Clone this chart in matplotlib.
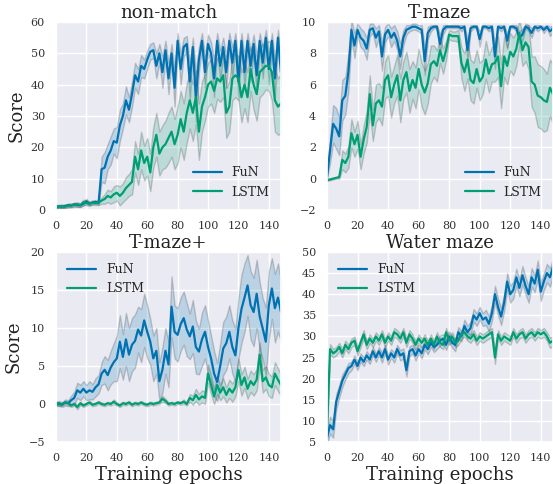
import numpy as np
import matplotlib
matplotlib.use("Agg")
import matplotlib.pyplot as plt
import seaborn as sns

# epochs (every 2nd epoch)
epochs = np.arange(0, 150, 2)

# non-match
nm_fun = [1.0, 1.2, 1.0, 1.3, 1.5, 1.4, 1.8, 1.6, 1.5, 2.0, 2.8, 2.0, 2.3, 2.6, 2.2,
          13.0, 13.5, 17.0, 19.0, 22.0, 21.5, 27.0, 30.0, 35.0, 32.0, 37.0, 43.0, 41.0, 46.0, 45.0,
          48.0, 50.5, 51.0, 46.0, 50.0, 44.0, 51.0, 42.0, 50.0, 39.0, 54.0, 45.0, 52.0, 53.0, 41.0,
          52.0, 36.0, 48.0, 54.0, 44.0, 53.0, 50.0, 42.0, 54.0, 46.0, 52.0, 44.0, 54.0, 47.0, 54.0,
          41.0, 54.0, 44.0, 54.0, 46.0, 53.0, 43.0, 54.0, 47.0, 55.0, 45.0, 54.0, 42.0, 55.0, 44.0]
nm_fun_err = [0.5, 0.5, 0.5, 0.5, 0.5, 0.5, 0.5, 0.6, 0.5, 0.6, 0.8, 0.6, 0.5, 0.6, 0.5,
              4.0, 5.0, 4.0, 4.5, 4.0, 5.0, 5.0, 4.0, 4.5, 4.0, 4.0, 4.0, 4.0, 3.5, 3.0,
              3.0, 2.5, 2.5, 4.0, 3.0, 5.0, 3.0, 5.0, 3.0, 6.0, 2.5, 5.0, 3.0, 2.5, 6.0,
              3.0, 8.0, 4.0, 2.5, 5.0, 3.0, 3.5, 6.0, 2.5, 5.0, 3.0, 5.0, 2.5, 5.0, 2.5,
              6.0, 2.5, 5.0, 2.5, 5.0, 3.0, 6.0, 2.5, 5.0, 2.5, 5.0, 2.5, 6.0, 2.5, 5.0]
nm_lstm = [0.8, 1.0, 1.2, 1.0, 1.4, 1.5, 1.6, 1.8, 1.5, 2.5, 2.2, 2.0, 2.4, 2.2, 2.3,
           3.0, 3.5, 4.5, 4.0, 5.0, 5.5, 4.5, 5.5, 7.0, 8.0, 9.0, 17.0, 13.0, 19.0, 15.0,
           17.0, 12.0, 20.0, 24.0, 18.0, 20.0, 21.0, 23.0, 25.0, 21.0, 24.0, 29.0, 25.0, 31.0, 35.0,
           31.0, 36.0, 25.0, 33.0, 36.0, 40.0, 41.0, 38.0, 42.0, 41.0, 43.0, 31.0, 33.0, 42.0, 43.0,
           42.0, 36.0, 40.0, 36.0, 45.0, 40.0, 37.0, 44.0, 45.0, 46.0, 46.0, 44.0, 35.0, 33.0, 34.0]
nm_lstm_err = [0.5, 0.5, 0.6, 0.5, 0.6, 0.6, 0.6, 0.7, 0.6, 0.8, 0.7, 0.6, 0.7, 0.6, 0.7,
               1.0, 1.5, 2.0, 2.0, 2.5, 2.5, 3.0, 3.0, 3.5, 3.5, 4.0, 5.0, 5.0, 6.0, 5.5,
               6.0, 6.0, 6.5, 7.0, 7.0, 7.0, 7.5, 8.0, 8.0, 8.0, 9.0, 9.0, 9.0, 9.5, 9.0,
               9.0, 8.5, 9.0, 8.0, 7.5, 7.0, 7.0, 7.0, 6.5, 6.5, 7.0, 8.0, 8.0, 7.0, 7.0,
               7.0, 8.0, 7.5, 8.0, 7.0, 8.0, 8.5, 8.0, 8.0, 7.5, 8.0, 9.0, 10.0, 9.0, 9.5]

# T-maze
tm_fun = [0.1, 1.8, 3.5, 3.2, 2.7, 5.0, 5.3, 6.8, 9.5, 8.5, 9.5, 9.0, 8.8, 8.3, 9.5,
          9.6, 9.0, 9.4, 7.8, 9.2, 9.5, 9.0, 9.3, 8.8, 7.8, 9.0, 9.5, 9.6, 9.7, 9.7,
          9.6, 9.5, 7.5, 9.3, 9.6, 9.7, 9.7, 8.6, 9.5, 9.7, 9.7, 9.7, 9.7, 9.7, 9.6,
          9.7, 8.2, 9.6, 9.7, 9.7, 8.9, 9.7, 9.7, 9.6, 9.7, 7.8, 9.7, 9.6, 9.7, 8.8,
          9.7, 9.7, 9.6, 9.0, 9.2, 9.7, 9.6, 9.3, 9.7, 9.6, 9.7, 9.5, 9.7, 9.4, 9.6]
tm_fun_err = [0.1, 0.8, 1.2, 1.3, 1.2, 1.3, 1.2, 1.2, 0.6, 0.8, 0.4, 0.6, 0.6, 0.7, 0.4,
              0.3, 0.6, 0.4, 0.9, 0.5, 0.4, 0.6, 0.5, 0.6, 0.8, 0.5, 0.3, 0.2, 0.2, 0.2,
              0.2, 0.3, 0.9, 0.4, 0.2, 0.1, 0.1, 0.6, 0.3, 0.1, 0.1, 0.1, 0.1, 0.1, 0.2,
              0.1, 0.7, 0.2, 0.1, 0.1, 0.5, 0.1, 0.1, 0.2, 0.1, 0.8, 0.1, 0.2, 0.1, 0.5,
              0.1, 0.1, 0.2, 0.4, 0.4, 0.1, 0.2, 0.3, 0.1, 0.2, 0.1, 0.2, 0.1, 0.3, 0.2]
tm_lstm = [-0.1, -0.05, 0.0, 0.05, 0.1, 1.2, 1.0, 1.4, 2.9, 2.2, 2.8, 1.4, 2.5, 3.3, 5.4,
           3.4, 4.8, 5.0, 4.6, 6.3, 6.6, 5.2, 6.0, 6.6, 5.0, 6.3, 6.8, 5.6, 6.3, 5.8,
           7.0, 6.0, 5.5, 6.1, 7.3, 7.5, 7.2, 8.2, 7.5, 8.2, 9.2, 9.1, 9.1, 9.1, 7.4,
           6.8, 7.6, 6.3, 6.1, 7.0, 6.2, 6.5, 7.6, 6.7, 7.3, 7.4, 7.8, 5.9, 7.8, 7.2,
           8.1, 7.8, 8.3, 9.3, 8.2, 8.7, 8.4, 6.2, 6.0, 5.3, 5.2, 5.0, 4.9, 5.8, 5.4]
tm_lstm_err = [0.05, 0.05, 0.05, 0.05, 0.1, 0.6, 0.6, 0.7, 0.9, 0.8, 0.9, 0.8, 0.9, 1.0, 1.2,
               1.0, 1.2, 1.1, 1.2, 1.2, 1.3, 1.3, 1.2, 1.3, 1.4, 1.2, 1.3, 1.4, 1.2, 1.3,
               1.3, 1.4, 1.4, 1.3, 1.2, 1.0, 1.0, 0.8, 0.8, 0.6, 0.3, 0.3, 0.3, 0.4, 1.0,
               1.2, 1.2, 1.3, 1.3, 1.2, 1.2, 1.1, 1.2, 1.2, 1.1, 1.2, 1.3, 1.4, 1.3, 1.2,
               1.2, 1.2, 1.1, 0.8, 1.0, 1.2, 1.4, 1.6, 1.8, 2.0, 2.0, 2.0, 1.8, 1.8, 1.9]

# T-maze+
tp_fun = [0.0, 0.1, -0.1, 0.2, 0.1, 0.5, 0.8, 1.8, 1.5, 2.0, 1.5, 1.8, 1.6, 2.2, 2.6,
          4.0, 4.5, 3.8, 4.8, 5.5, 6.0, 8.2, 6.2, 8.5, 6.5, 7.8, 8.3, 9.8, 9.0, 11.0,
          9.5, 8.2, 6.0, 7.0, 3.0, 4.5, 7.0, 5.2, 12.8, 9.5, 9.1, 10.5, 11.3, 9.8, 8.9,
          10.2, 7.5, 6.9, 8.5, 9.5, 7.5, 6.0, 4.0, 2.9, 5.0, 7.3, 8.0, 9.5, 7.5, 6.4,
          10.0, 12.5, 14.0, 15.6, 13.0, 12.1, 14.5, 11.5, 9.9, 8.2, 13.0, 15.2, 12.6, 14.0, 12.1]
tp_fun_err = [0.3, 0.3, 0.3, 0.4, 0.4, 0.6, 0.8, 1.0, 1.0, 1.0, 1.0, 1.2, 1.0, 1.2, 1.2,
              1.5, 1.8, 2.0, 2.2, 2.5, 3.0, 3.5, 3.0, 3.5, 3.5, 3.5, 3.5, 3.0, 3.5, 3.5,
              3.5, 3.0, 3.0, 3.0, 2.5, 3.0, 3.0, 3.0, 4.0, 3.5, 3.5, 3.5, 3.5, 3.5, 3.0,
              3.5, 3.5, 3.0, 3.5, 3.5, 3.5, 3.0, 3.0, 2.5, 3.0, 3.5, 3.5, 3.5, 3.5, 3.5,
              4.0, 4.5, 4.5, 4.0, 4.5, 4.5, 4.5, 4.5, 4.0, 4.5, 4.5, 4.0, 4.5, 4.5, 4.0]
tp_lstm = [0.1, -0.1, 0.0, 0.2, 0.1, -0.2, 0.0, -0.4, 0.1, -0.2, 0.0, 0.2, -0.1, 0.0, 0.2,
           0.0, -0.1, 0.1, 0.0, 0.3, 0.0, -0.2, 0.1, 0.0, 0.2, -0.1, 0.1, 0.0, 0.2, 0.0,
           -0.1, 0.1, 0.0, 0.1, 0.2, 0.7, 0.4, 0.0, 0.1, 0.0, 0.2, 0.1, 0.3, 0.0, 0.8,
           0.5, 1.2, 0.6, 1.0, 0.8, 4.0, 2.5, 1.0, 2.5, 1.5, 2.2, 1.2, 2.0, 1.5, 2.2,
           4.5, 2.5, 3.5, 2.0, 3.0, 2.5, 3.2, 6.5, 3.0, 3.5, 2.5, 2.2, 4.0, 3.2, 2.5]
tp_lstm_err = [0.2, 0.2, 0.2, 0.2, 0.2, 0.2, 0.2, 0.3, 0.2, 0.2, 0.2, 0.2, 0.2, 0.2, 0.2,
               0.2, 0.2, 0.2, 0.2, 0.3, 0.2, 0.2, 0.2, 0.2, 0.2, 0.2, 0.2, 0.2, 0.2, 0.2,
               0.2, 0.2, 0.2, 0.2, 0.2, 0.4, 0.3, 0.2, 0.2, 0.2, 0.2, 0.2, 0.3, 0.2, 0.5,
               0.6, 0.8, 0.7, 0.8, 0.8, 1.2, 1.2, 1.0, 1.2, 1.0, 1.2, 1.0, 1.2, 1.2, 1.2,
               1.5, 1.4, 1.4, 1.3, 1.4, 1.4, 1.4, 1.6, 1.5, 1.5, 1.5, 1.4, 1.5, 1.5, 1.4]

# Water maze
wm_fun = [6.0, 9.0, 8.0, 14.5, 17.0, 19.5, 21.0, 22.5, 23.0, 24.5, 23.0, 25.0, 24.0, 25.5, 24.5,
          26.5, 25.0, 26.5, 25.0, 27.0, 24.5, 26.0, 25.0, 27.0, 25.5, 26.0, 22.0, 26.5, 27.0, 25.5,
          27.0, 26.0, 28.0, 27.0, 28.5, 27.5, 28.0, 29.0, 29.5, 28.0, 30.0, 28.5, 28.0, 31.0, 30.0,
          32.5, 31.0, 32.0, 35.0, 34.0, 35.5, 34.0, 34.5, 33.0, 35.5, 40.0, 37.0, 34.7, 38.0, 43.0,
          40.0, 41.0, 44.0, 41.5, 44.5, 42.0, 40.0, 44.0, 42.5, 45.8, 40.6, 43.0, 45.0, 44.0, 46.5]
wm_fun_err = [1.5, 2.0, 2.0, 1.8, 1.5, 1.5, 1.2, 1.2, 1.0, 1.0, 1.0, 1.0, 1.0, 1.0, 1.0,
              1.0, 1.0, 1.0, 1.2, 1.0, 1.2, 1.0, 1.2, 1.0, 1.2, 1.2, 1.5, 1.2, 1.0, 1.2,
              1.0, 1.2, 1.0, 1.2, 1.0, 1.2, 1.0, 1.2, 1.0, 1.2, 1.2, 1.2, 1.5, 1.2, 1.2,
              1.5, 1.5, 1.5, 1.5, 1.5, 1.5, 1.5, 1.8, 1.8, 1.8, 2.0, 2.0, 2.0, 2.0, 2.0,
              2.0, 2.0, 2.0, 2.0, 2.2, 2.0, 2.0, 2.2, 2.0, 2.2, 2.2, 2.0, 2.2, 2.2, 2.0]
wm_lstm = [8.0, 27.0, 26.0, 26.5, 27.5, 26.0, 28.0, 27.0, 28.5, 29.0, 26.5, 28.5, 30.5, 28.0, 29.5,
           28.5, 30.0, 29.0, 30.5, 28.5, 30.0, 29.0, 31.0, 30.5, 29.5, 31.0, 28.5, 30.5, 29.5, 28.0,
           29.5, 28.5, 29.5, 28.0, 29.5, 28.0, 30.0, 28.5, 28.0, 31.0, 29.0, 30.0, 28.5, 29.0, 30.5,
           31.0, 30.0, 29.5, 30.5, 29.0, 30.0, 29.5, 30.0, 30.5, 31.0, 25.0, 30.5, 29.0, 30.0, 29.5,
           29.0, 31.0, 29.5, 30.5, 31.0, 29.5, 30.5, 31.0, 30.0, 31.0, 30.5, 31.0, 30.0, 28.5, 29.0]
wm_lstm_err = [2.0, 1.2, 1.0, 1.0, 1.0, 1.0, 1.0, 1.0, 1.0, 1.0, 1.0, 1.0, 1.0, 1.0, 1.0,
               1.0, 1.0, 1.0, 1.0, 1.0, 1.0, 1.0, 1.0, 1.0, 1.0, 1.0, 1.0, 1.0, 1.0, 1.0,
               1.0, 1.0, 1.0, 1.0, 1.0, 1.0, 1.0, 1.0, 1.0, 1.0, 1.0, 1.0, 1.0, 1.0, 1.0,
               1.0, 1.0, 1.0, 1.0, 1.0, 1.0, 1.0, 1.0, 1.0, 1.0, 1.5, 1.0, 1.0, 1.0, 1.0,
               1.0, 1.0, 1.0, 1.0, 1.0, 1.0, 1.0, 1.0, 1.0, 1.0, 1.0, 1.0, 1.0, 1.2, 1.2]

titles = ["non-match", "T-maze", "T-maze+", "Water maze"]
ylims = [(0, 60), (-2, 10), (-5, 20), (5, 50)]
yticks = [np.arange(0, 61, 10), np.arange(-2, 11, 2), np.arange(-5, 21, 5), np.arange(5, 51, 5)]
xticks = np.arange(0, 141, 20)
legend_locs = ["lower right", "lower right", "upper left", "upper left"]

sns.set_theme(style="darkgrid")
plt.rcParams["font.family"] = ["DejaVu Serif"]

blue = "#0072B2"
green = "#009E73"

fig = plt.figure(figsize=(5.53, 4.84), dpi=100)
# axes placed in pixel terms; right column runs off the image edge like the original crop
W, H = 553.0, 484.0
boxes = [(56, 22, 225, 188), (327, 22, 226, 188), (56, 252, 225, 190), (327, 252, 226, 190)]

data = [(nm_fun, nm_fun_err, nm_lstm, nm_lstm_err),
        (tm_fun, tm_fun_err, tm_lstm, tm_lstm_err),
        (tp_fun, tp_fun_err, tp_lstm, tp_lstm_err),
        (wm_fun, wm_fun_err, wm_lstm, wm_lstm_err)]

for i, (fun, fun_e, lstm, lstm_e) in enumerate(data):
    l, t, w, h = boxes[i]
    ax = fig.add_axes([l / W, 1 - (t + h) / H, w / W, h / H])
    for m, e, c, lab in [(fun, fun_e, blue, "FuN"), (lstm, lstm_e, green, "LSTM")]:
        m = np.array(m)
        e = np.array(e)
        ax.fill_between(epochs, m - e, m + e, facecolor=c, edgecolor="k",
                        alpha=0.2, linewidth=1.0)
        ax.plot(epochs, m, color=c, linewidth=1.6, label=lab)
    ax.set_xlim(0, 148)
    ax.set_ylim(*ylims[i])
    ax.set_xticks(xticks)
    ax.set_yticks(yticks[i])
    ax.tick_params(labelsize=8, pad=2, labelcolor="#333333")
    ax.set_title(titles[i], fontsize=13, pad=3, color="#222222")
    if i % 2 == 0:
        ax.set_ylabel("Score", fontsize=13, labelpad=4, color="#222222")
    if i >= 2:
        ax.set_xlabel("Training epochs", fontsize=13, labelpad=2, color="#222222")
    ax.legend(loc=legend_locs[i], fontsize=9, frameon=False, handlelength=2.3)

fig.savefig("out.png", dpi=100)
